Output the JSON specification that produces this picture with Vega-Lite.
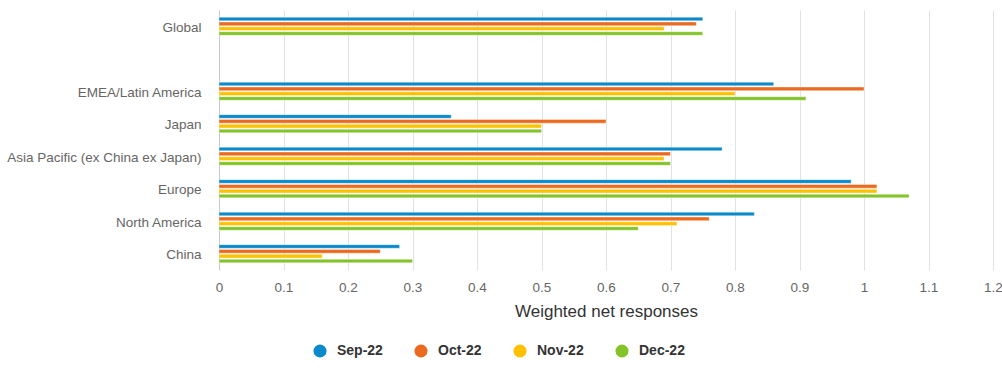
{
  "$schema": "https://vega.github.io/schema/vega-lite/v6.json",
  "autosize": {"type": "none"},
  "padding": {"left": 219, "top": 10, "right": 9, "bottom": 101},
  "width": 774,
  "height": 260,
  "background": "white",
  "config": {
    "font": "Liberation Sans",
    "view": {"stroke": null}
  },
  "data": {
    "values": [
      {"region": "Global", "month": "Sep-22", "value": 0.75},
      {"region": "Global", "month": "Oct-22", "value": 0.74},
      {"region": "Global", "month": "Nov-22", "value": 0.69},
      {"region": "Global", "month": "Dec-22", "value": 0.75},
      {"region": "EMEA/Latin America", "month": "Sep-22", "value": 0.86},
      {"region": "EMEA/Latin America", "month": "Oct-22", "value": 1.0},
      {"region": "EMEA/Latin America", "month": "Nov-22", "value": 0.8},
      {"region": "EMEA/Latin America", "month": "Dec-22", "value": 0.91},
      {"region": "Japan", "month": "Sep-22", "value": 0.36},
      {"region": "Japan", "month": "Oct-22", "value": 0.6},
      {"region": "Japan", "month": "Nov-22", "value": 0.5},
      {"region": "Japan", "month": "Dec-22", "value": 0.5},
      {"region": "Asia Pacific (ex China ex Japan)", "month": "Sep-22", "value": 0.78},
      {"region": "Asia Pacific (ex China ex Japan)", "month": "Oct-22", "value": 0.7},
      {"region": "Asia Pacific (ex China ex Japan)", "month": "Nov-22", "value": 0.69},
      {"region": "Asia Pacific (ex China ex Japan)", "month": "Dec-22", "value": 0.7},
      {"region": "Europe", "month": "Sep-22", "value": 0.98},
      {"region": "Europe", "month": "Oct-22", "value": 1.02},
      {"region": "Europe", "month": "Nov-22", "value": 1.02},
      {"region": "Europe", "month": "Dec-22", "value": 1.07},
      {"region": "North America", "month": "Sep-22", "value": 0.83},
      {"region": "North America", "month": "Oct-22", "value": 0.76},
      {"region": "North America", "month": "Nov-22", "value": 0.71},
      {"region": "North America", "month": "Dec-22", "value": 0.65},
      {"region": "China", "month": "Sep-22", "value": 0.28},
      {"region": "China", "month": "Oct-22", "value": 0.25},
      {"region": "China", "month": "Nov-22", "value": 0.16},
      {"region": "China", "month": "Dec-22", "value": 0.3}
    ]
  },
  "mark": {"type": "bar", "stroke": "white", "strokeWidth": 0.4},
  "encoding": {
    "y": {
      "field": "region",
      "type": "nominal",
      "scale": {
        "domain": ["Global", " ", "EMEA/Latin America", "Japan", "Asia Pacific (ex China ex Japan)", "Europe", "North America", "China"],
        "paddingInner": 0.44,
        "paddingOuter": 0.22
      },
      "axis": {
        "title": null,
        "ticks": false,
        "domain": true,
        "domainColor": "#c8c8d0",
        "domainWidth": 1,
        "labelFontSize": 13.5,
        "labelColor": "#666666",
        "labelPadding": 18,
        "labelOffset": 1.5,
        "labelLimit": 300,
        "grid": false
      }
    },
    "yOffset": {
      "field": "month",
      "type": "nominal",
      "scale": {"domain": ["Sep-22", "Oct-22", "Nov-22", "Dec-22"], "paddingInner": 0.25}
    },
    "x": {
      "field": "value",
      "type": "quantitative",
      "scale": {"domain": [0, 1.2], "nice": false},
      "axis": {
        "title": "Weighted net responses",
        "titleFontSize": 17,
        "titleFontWeight": "normal",
        "titleColor": "#333333",
        "titlePadding": 10,
        "values": [0, 0.1, 0.2, 0.3, 0.4, 0.5, 0.6, 0.7, 0.8, 0.9, 1, 1.1, 1.2],
        "format": "~g",
        "labelFontSize": 13.5,
        "labelColor": "#666666",
        "labelPadding": 10,
        "labelFlush": false,
        "domain": false,
        "ticks": false,
        "grid": true,
        "gridColor": "#e2e2e6",
        "gridWidth": 1
      }
    },
    "color": {
      "field": "month",
      "type": "nominal",
      "scale": {
        "domain": ["Sep-22", "Oct-22", "Nov-22", "Dec-22"],
        "range": ["#0a8acb", "#eb6a1f", "#fdc100", "#84c42a"]
      },
      "legend": {
        "title": null,
        "orient": "none",
        "direction": "horizontal",
        "legendX": 94,
        "legendY": 334,
        "symbolType": "circle",
        "symbolSize": 170,
        "symbolStrokeWidth": 0,
        "labelFontSize": 14,
        "labelFontWeight": "bold",
        "labelColor": "#333333",
        "labelOffset": 10,
        "columnPadding": 31
      }
    }
  }
}
